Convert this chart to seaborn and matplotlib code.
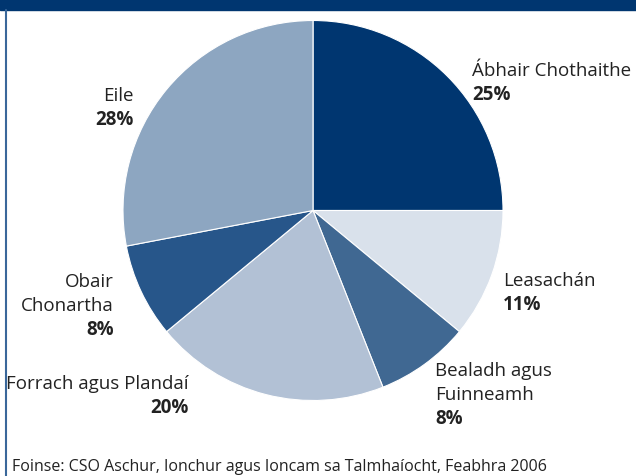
import matplotlib
matplotlib.use("Agg")
import matplotlib.pyplot as plt
import seaborn as sns

# ---- data ----
categories = ["Ábhair Chothaithe", "Leasachán", "Bealadh agus Fuinneamh",
              "Forrach agus Plandaí", "Obair Chonartha", "Eile"]
shares = [25, 11, 8, 20, 8, 28]
slice_colors = ["#003670", "#d9e1eb", "#406892", "#b2c1d5", "#27568a", "#8da6c1"]
source_text = "Foinse: CSO Aschur, Ionchur agus Ioncam sa Talmhaíocht, Feabhra 2006"

sns.set_theme(style="white")
plt.rcParams["font.family"] = ["Open Sans", "DejaVu Sans"]

W, H = 636, 477
fig = plt.figure(figsize=(W / 100, H / 100), dpi=100)
fig.patch.set_facecolor("white")

def fx(x):
    return x / W

def fy(y):
    return 1 - y / H

# header bar and left border
fig.patches.append(plt.Rectangle((0, fy(11)), 1, 11 / H, transform=fig.transFigure,
                                 color="#003670", zorder=0))
fig.lines.append(plt.Line2D([fx(5.5), fx(5.5)], [0, fy(11)], transform=fig.transFigure,
                            color="#3a679a", lw=1.5))

# pie axes: center (313, 211), radius 190 px
cx, cy, r = 313, 211.5, 190
ax = fig.add_axes([fx(cx - r), fy(cy + r), 2 * r / W, 2 * r / H])
ax.pie(shares, colors=slice_colors, startangle=90, counterclock=False,
       wedgeprops=dict(edgecolor="white", linewidth=0.8))
ax.set_xlim(-1, 1)
ax.set_ylim(-1, 1)
ax.set_aspect("auto")
ax.axis("off")

fs = 13.5
tc = "#222222"

def label(x, y, lines, pct, ha):
    for i, t in enumerate(lines):
        fig.text(fx(x), fy(y + i * 24), t, ha=ha, va="baseline", fontsize=fs, color=tc)
    fig.text(fx(x), fy(y + len(lines) * 24), f"{pct}%", ha=ha, va="baseline",
             fontsize=fs, color=tc, fontweight="bold")

label(472, 76, ["Ábhair Chothaithe"], shares[0], "left")
label(503, 286, ["Leasachán"], shares[1], "left")
label(435, 376, ["Bealadh agus", "Fuinneamh"], shares[2], "left")
label(189, 389, ["Forrach agus Plandaí"], shares[3], "right")
label(114, 287, ["Obair", "Chonartha"], shares[4], "right")
label(134, 101, ["Eile"], shares[5], "right")

fig.text(fx(12), fy(471), source_text, ha="left", va="baseline", fontsize=11.5, color=tc)

fig.savefig("out.png", dpi=100, facecolor="white")
